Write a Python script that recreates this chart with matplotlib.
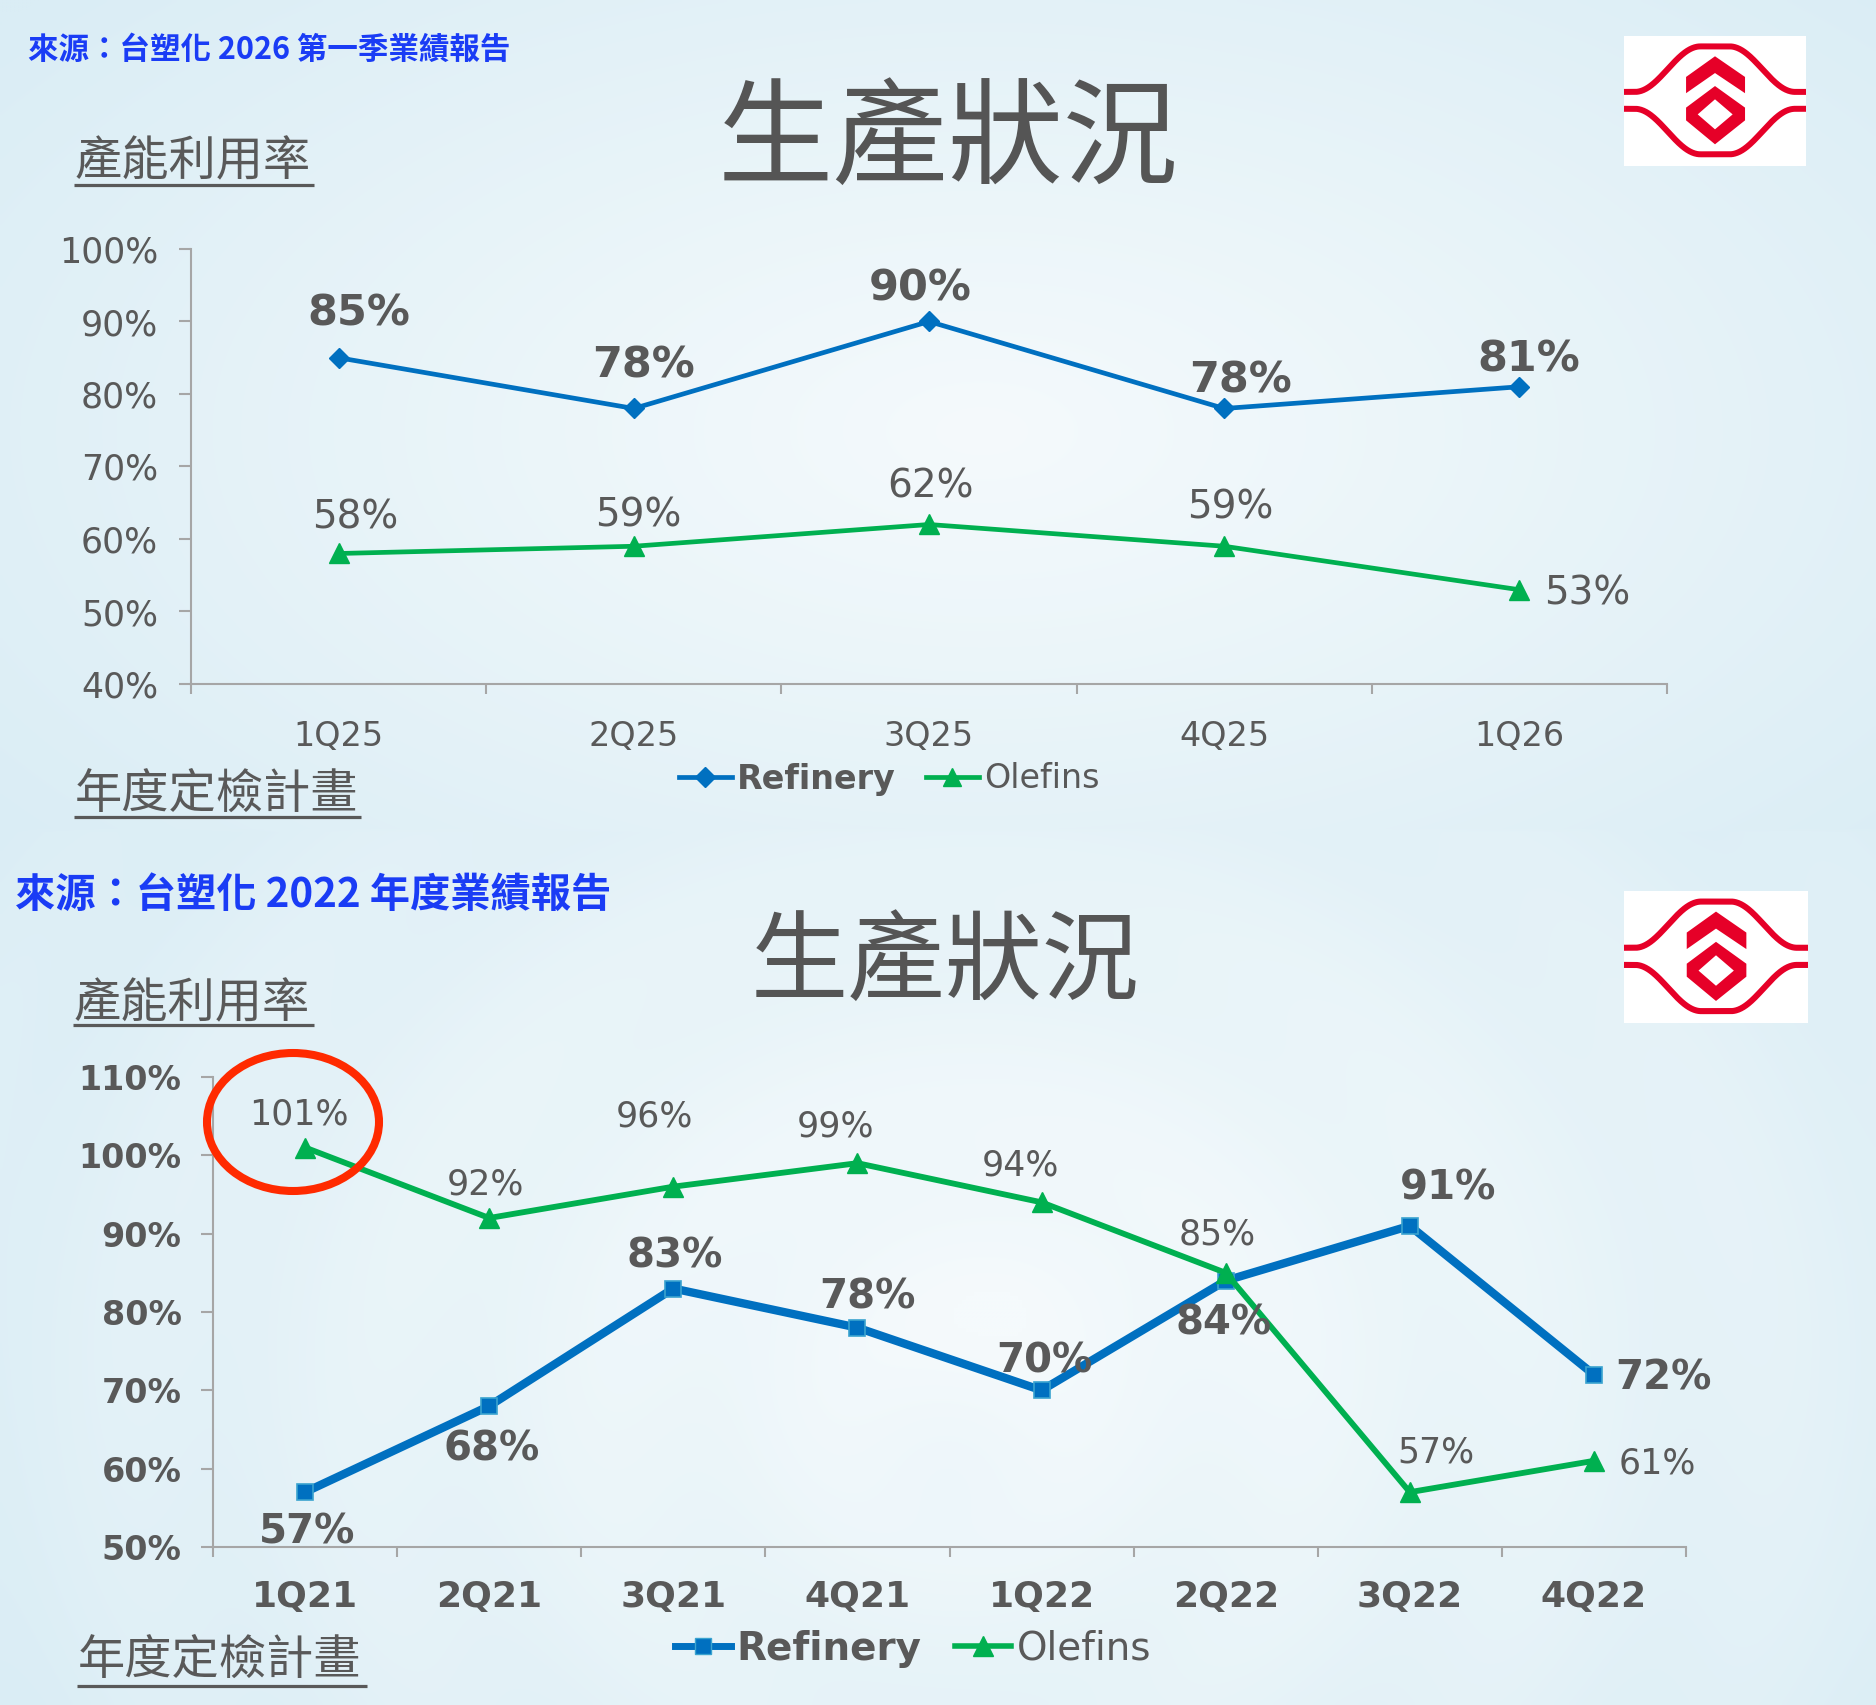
import numpy as np
import matplotlib
matplotlib.use('Agg')
import matplotlib.pyplot as plt
from matplotlib.lines import Line2D
from matplotlib.patches import Rectangle, Polygon, Ellipse

# ---------------- data ----------------
top_quarters = ['1Q25', '2Q25', '3Q25', '4Q25', '1Q26']
top_refinery = [85, 78, 90, 78, 81]
top_olefins = [58, 59, 62, 59, 53]
top_yticks = [40, 50, 60, 70, 80, 90, 100]

bot_quarters = ['1Q21', '2Q21', '3Q21', '4Q21', '1Q22', '2Q22', '3Q22', '4Q22']
bot_refinery = [57, 68, 83, 78, 70, 84, 91, 72]
bot_olefins = [101, 92, 96, 99, 94, 85, 57, 61]
bot_yticks = [50, 60, 70, 80, 90, 100, 110]

series_names = ['Refinery', 'Olefins']
source_top = '來源：台塑化 2026 第一季業績報告'
source_bot = '來源：台塑化 2022 年度業績報告'
title_text = '生產狀況'
sub_util = '產能利用率'
sub_plan = '年度定檢計畫'

# ---------------- style ----------------
W, H = 1876, 1705
BLUE = '#0070C0'
GREEN = '#00B050'
GRAY = '#595959'
AXIS = '#a6a6a6'
SRC_BLUE = '#1a3cf5'
RED = '#e60028'
CJK = ['Noto Sans CJK TC', 'DejaVu Sans']
LAT = ['DejaVu Sans']
PX = 72 / 100.0  # pixels -> points

# label offsets in display px (dx right, dy up) relative to the marker
top_ref_off = [(17, 37), (8, 36), (-7, 28), (14, 23), (8, 23)]
top_ole_off = [(14, 30), (4, 26), (1, 32), (5, 32), (57, -3)]
bot_ref_off = [(2, -34), (2, -36), (1, 27), (8, 25), (2, 24), (-2, -36), (32, 31), (58, -3)]
bot_ole_off = [(-5, 28), (-3, 28), (-16, 59), (-18, 31), (-18, 31), (-7, 32), (22, 33), (53, -2)]

fig = plt.figure(figsize=(W / 100, H / 100), dpi=100)

# ---------------- background ----------------
bg = fig.add_axes([0, 0, 1, 1], zorder=-10)
step = 4
yy, xx = np.mgrid[0:H:step, 0:W:step].astype(float)
edge = np.array([0xda, 0xed, 0xf5]) / 255
center = np.array([0xf5, 0xfa, 0xfc]) / 255


def radial(cx, cy, rx, ry):
    d = np.sqrt(((xx - cx) / rx) ** 2 + ((yy - cy) / ry) ** 2)
    return np.clip(d, 0, 1)


t_top = radial(980, 430, 1250, 650)
t_bot = radial(1000, 1300, 1250, 800)
d_ring = np.sqrt((xx - 950) ** 2 + (yy - 1450) ** 2)
t_bot = np.clip(t_bot + 0.05 * np.cos(d_ring / 38.0), 0, 1)
t = np.where(yy < 832, t_top, t_bot)
img = center + (edge - center) * t[..., None]
bg.imshow(img, extent=[0, W, H, 0], aspect='auto', interpolation='bilinear')
bg.set_xlim(0, W)
bg.set_ylim(H, 0)
bg.axis('off')


# ---------------- charts ----------------
def setup_axes(rect, quarters, yticks, ytick_fs, ytick_w, xtick_fs, xtick_w, ypad, xpad):
    ax = fig.add_axes(rect)
    ax.patch.set_alpha(0)
    n = len(quarters)
    ax.set_xlim(-0.5, n - 0.5)
    ax.set_ylim(yticks[0], yticks[-1])
    for s in ['top', 'right']:
        ax.spines[s].set_visible(False)
    for s in ['left', 'bottom']:
        ax.spines[s].set_color(AXIS)
        ax.spines[s].set_linewidth(1.5)
    ax.set_yticks(yticks)
    ax.set_yticklabels([f'{v}%' for v in yticks], fontsize=ytick_fs,
                       fontweight=ytick_w, color=GRAY, family=LAT)
    ax.set_xticks(np.arange(-0.5, n, 1.0))
    ax.set_xticklabels([])
    ax.set_xticks(np.arange(n), minor=True)
    ax.set_xticklabels(quarters, minor=True, fontsize=xtick_fs,
                       fontweight=xtick_w, color=GRAY, family=LAT)
    ax.tick_params(axis='y', direction='out', length=8.6, width=1.5, color=AXIS, pad=ypad)
    ax.tick_params(axis='x', which='major', direction='out', length=7, width=1.5, color=AXIS)
    ax.tick_params(axis='x', which='minor', length=0, pad=xpad)
    return ax


def add_labels(ax, vals, offsets, fs, weight):
    for i, (v, (dx, dy)) in enumerate(zip(vals, offsets)):
        ax.annotate(f'{v}%', (i, v), xytext=(dx * 1.1964 * PX, dy * 1.1964 * PX),
                    textcoords='offset points', ha='center', va='center',
                    fontsize=fs, fontweight=weight, color=GRAY, family=LAT,
                    annotation_clip=False, zorder=6)


# top chart
ax1 = setup_axes([191 / W, 1 - 684 / H, (1667 - 191) / W, (684 - 249) / H],
                 top_quarters, top_yticks, 25, 'normal', 24, 'normal', 15, 26)
x1 = np.arange(len(top_quarters))
ax1.plot(x1, top_refinery, color=BLUE, lw=3.4, marker='D', ms=10, mec=BLUE, clip_on=False, zorder=4)
ax1.plot(x1, top_olefins, color=GREEN, lw=3.4, marker='^', ms=14, mec=GREEN, clip_on=False, zorder=4)
add_labels(ax1, top_refinery, top_ref_off, 31, 'bold')
add_labels(ax1, top_olefins, top_ole_off, 28, 'normal')

# bottom chart
ax2 = setup_axes([213 / W, 1 - 1547 / H, (1686 - 213) / W, (1547 - 1077) / H],
                 bot_quarters, bot_yticks, 24, 'bold', 26, 'bold', 14, 24)
x2 = np.arange(len(bot_quarters))
ax2.plot(x2, bot_refinery, color=BLUE, lw=6.0, marker='s', ms=11, mfc=BLUE, mec='#3aa3cf',
         mew=1.2, clip_on=False, zorder=4)
ax2.plot(x2, bot_olefins, color=GREEN, lw=4.2, marker='^', ms=14, mec=GREEN, clip_on=False, zorder=5)
add_labels(ax2, bot_refinery, bot_ref_off, 29, 'bold')
add_labels(ax2, bot_olefins, bot_ole_off, 25, 'normal')

# legends
h_top = [Line2D([], [], color=BLUE, lw=3.4, marker='D', ms=10),
         Line2D([], [], color=GREEN, lw=3.4, marker='^', ms=13)]
leg1 = fig.legend(h_top, series_names, loc='center', bbox_to_anchor=(889 / W, 1 - 779 / H),
                  ncol=2, frameon=False, handlelength=1.6, handletextpad=0.15,
                  columnspacing=0.9, borderpad=0, prop={'family': LAT, 'size': 24})
h_bot = [Line2D([], [], color=BLUE, lw=5, marker='s', ms=11, mec='#3aa3cf'),
         Line2D([], [], color=GREEN, lw=4, marker='^', ms=14)]
leg2 = fig.legend(h_bot, series_names, loc='center', bbox_to_anchor=(913 / W, 1 - 1649 / H),
                  ncol=2, frameon=False, handlelength=1.45, handletextpad=0.15,
                  columnspacing=0.85, borderpad=0, prop={'family': LAT, 'size': 28})
for leg in (leg1, leg2):
    for tx in leg.get_texts():
        tx.set_color(GRAY)
    leg.get_texts()[0].set_fontweight('bold')

# ---------------- overlay: titles, headings, logo, highlight ----------------
ov = fig.add_axes([0, 0, 1, 1], zorder=10)
ov.patch.set_alpha(0)
ov.set_xlim(0, W)
ov.set_ylim(H, 0)
ov.axis('off')

ov.text(28, 50, source_top, fontsize=22, color=SRC_BLUE, fontweight='bold',
        ha='left', va='center', family=CJK)
ov.text(15, 895, source_bot, fontsize=29, color=SRC_BLUE, fontweight='bold',
        ha='left', va='center', family=CJK)
ov.text(948, 142, title_text, fontsize=83, color='#555555', ha='center', va='center',
        family=CJK, fontweight='medium')
ov.text(945, 964, title_text, fontsize=70, color='#555555', ha='center', va='center',
        family=CJK, fontweight='medium')


def heading(text, x0, x1, yc, yline):
    ov.text(x0, yc, text, fontsize=34, color=GRAY, ha='left', va='center', family=CJK)
    ov.plot([x0 - 1, x1], [yline, yline], color=GRAY, lw=2.3, solid_capstyle='butt')


heading(sub_util, 75, 314, 162, 185)
heading(sub_plan, 75, 361, 795, 817)
heading(sub_util, 74, 314, 1004, 1025)
heading(sub_plan, 78, 367, 1661, 1686)


def draw_logo(x0, y0, x1, y1):
    w, h = x1 - x0, y1 - y0
    ov.add_patch(Rectangle((x0, y0), w, h, facecolor='white', edgecolor='none', zorder=1))
    u = np.linspace(0, 1, 300)
    uu = np.where(u < 0.5, u, 1 - u)
    s = 0.5 - 0.5 * np.cos(np.pi * np.clip((uu - 0.06) / 0.36, 0, 1))
    v_top = 0.43 - 0.35 * s
    v_bot = 0.56 + 0.35 * s
    lw = 0.046 * h * PX
    for v in (v_top, v_bot):
        ov.plot(x0 + u * w, y0 + v * h, color=RED, lw=lw, solid_capstyle='butt', zorder=2)

    def P(pts, color):
        ov.add_patch(Polygon([(x0 + a * w, y0 + b * h) for a, b in pts], closed=True,
                             facecolor=color, edgecolor='none', zorder=3))
    P([(0.5, 0.156), (0.665, 0.315), (0.665, 0.44), (0.5, 0.285), (0.341, 0.44), (0.341, 0.315)], RED)
    P([(0.5, 0.385), (0.665, 0.551), (0.665, 0.649), (0.5, 0.833), (0.341, 0.649), (0.341, 0.551)], RED)
    P([(0.5, 0.487), (0.597, 0.603), (0.5, 0.718), (0.405, 0.603)], 'white')


draw_logo(1624, 36, 1806, 166)
draw_logo(1624, 891, 1808, 1023)

ov.add_patch(Ellipse((293, 1122), 172, 138, facecolor='none', edgecolor='#ff2a00', lw=5.8, zorder=5))

fig.savefig('out.png', dpi=100)
